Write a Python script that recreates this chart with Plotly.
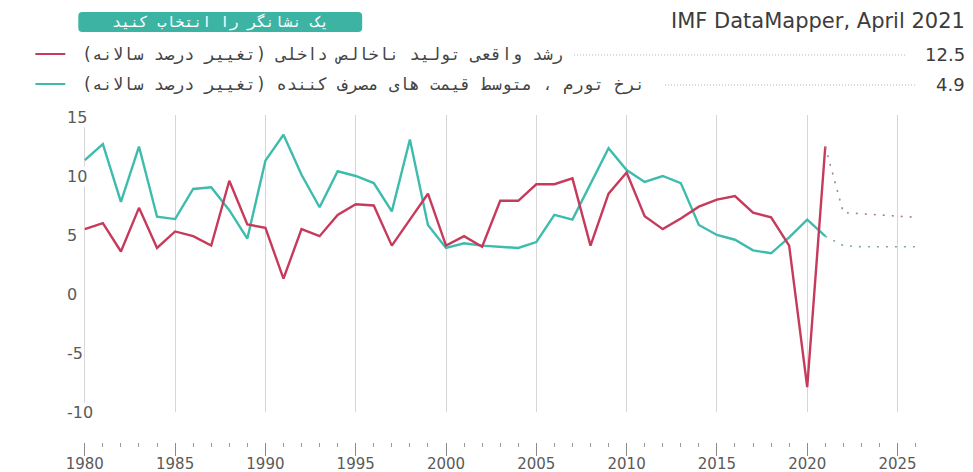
import plotly.graph_objects as go

# ---------------- data ----------------
hist_years = list(range(1980, 2022))
gdp_hist = [5.5, 6.0, 3.6, 7.3, 3.9, 5.3, 4.9, 4.1, 9.6, 5.9,
            5.6, 1.3, 5.5, 4.9, 6.7, 7.6, 7.5, 4.1, 6.3, 8.5,
            4.1, 4.9, 4.0, 7.9, 7.9, 9.3, 9.3, 9.8, 4.1, 8.5,
            10.3, 6.6, 5.5, 6.4, 7.4, 8.0, 8.3, 6.9, 6.5, 4.1,
            -7.9, 12.5]
infl_hist = [11.35, 12.7, 7.8, 12.5, 6.55, 6.35, 8.9, 9.05, 7.1, 4.7,
             11.3, 13.5, 10.1, 7.35, 10.4, 10.0, 9.4, 7.0, 13.1, 5.85,
             3.9, 4.3, 4.1, 4.0, 3.9, 4.4, 6.7, 6.3, 9.3, 12.35,
             10.5, 9.5, 10.0, 9.4, 5.85, 5.0, 4.6, 3.7, 3.45, 4.8,
             6.3, 4.9]
proj_years = [2021, 2022, 2023, 2024, 2025, 2026]
gdp_proj = [12.5, 6.9, 6.8, 6.7, 6.6, 6.5]
infl_proj = [4.9, 4.1, 4.0, 4.0, 4.0, 4.0]

y_ticks = [15, 10, 5, 0, -5, -10]
x_ticks = [1980, 1985, 1990, 1995, 2000, 2005, 2010, 2015, 2020, 2025]

title_text = "IMF DataMapper, April 2021"
button_text = "یک نشانگر را انتخاب کنید"
gdp_label = "رشد واقعی تولید ناخالص داخلی (تغییر درصد سالانه)"
infl_label = "نرخ تورم ، متوسط قیمت های مصرف کننده (تغییر درصد سالانه)"
gdp_latest = "12.5"
infl_latest = "4.9"

RED = "#c63a5b"
TEAL = "#3dbcae"
RED_DOT = "#a8808a"
TEAL_DOT = "#7fa8a3"
GRID = "#d6d6d6"
TXT = "#5a5a5a"
FONT = "DejaVu Sans"
AFONT = "DejaVu Sans Mono, DejaVu Sans"

# ---------------- layout geometry ----------------
# the page body places the figure 8px from the window corner;
# positions below are given in window pixels
OFF = 8
W, H = 973 - OFF, 472 - OFF
L_PX, R_PX, T_PX, B_PX = 82.7, 921.1, 115.0, 442.0   # window pixels
PW, PH = R_PX - L_PX, B_PX - T_PX
RIGHT_TXT = 967


def px(x):
    return (x - L_PX) / PW


def py(y):
    return (B_PX - y) / PH


fig = go.Figure()

fig.add_trace(go.Scatter(x=hist_years, y=infl_hist, mode="lines",
                         line=dict(color=TEAL, width=2.4), showlegend=False,
                         hoverinfo="skip"))
fig.add_trace(go.Scatter(x=hist_years, y=gdp_hist, mode="lines",
                         line=dict(color=RED, width=2.4), showlegend=False,
                         hoverinfo="skip"))
fig.add_trace(go.Scatter(x=proj_years, y=infl_proj, mode="lines",
                         line=dict(color=TEAL_DOT, width=1.6, dash="2px,7px"),
                         showlegend=False, hoverinfo="skip"))
fig.add_trace(go.Scatter(x=proj_years, y=gdp_proj, mode="lines",
                         line=dict(color=RED_DOT, width=1.6, dash="2px,7px"),
                         showlegend=False, hoverinfo="skip"))

# invisible trace on the tick axis so it renders
fig.add_trace(go.Scatter(x=[1980, 2026], y=[None, None], xaxis="x2",
                         mode="lines", showlegend=False, hoverinfo="skip"))

dom_bottom = py(412)

annotations = []
for v in y_ticks:
    annotations.append(dict(x=px(66), xref="paper", y=v, yref="y",
                            text=str(v), showarrow=False, xanchor="left",
                            yanchor="middle", bgcolor="white", borderpad=0,
                            font=dict(family=FONT, size=16, color=TXT)))

annotations.append(dict(x=px(RIGHT_TXT), y=py(21), xref="paper", yref="paper",
                        text=title_text, showarrow=False, xanchor="right",
                        yanchor="middle",
                        font=dict(family=FONT, size=21, color="#3c3c3c")))
annotations.append(dict(x=px(220), y=py(22), xref="paper", yref="paper",
                        text="\u200f" + button_text + "\u200f", showarrow=False,
                        xanchor="center", yanchor="middle",
                        font=dict(family=AFONT, size=15, color="white")))
annotations.append(dict(x=px(80), y=py(54), xref="paper", yref="paper",
                        text="\u200f" + gdp_label + "\u200f", showarrow=False,
                        xanchor="left", yanchor="middle",
                        font=dict(family=AFONT, size=17, color="#444444")))
annotations.append(dict(x=px(80), y=py(84), xref="paper", yref="paper",
                        text="\u200f" + infl_label + "\u200f", showarrow=False,
                        xanchor="left", yanchor="middle",
                        font=dict(family=AFONT, size=17, color="#444444")))
annotations.append(dict(x=px(RIGHT_TXT), y=py(54), xref="paper", yref="paper",
                        text=gdp_latest, showarrow=False, xanchor="right",
                        yanchor="middle",
                        font=dict(family=FONT, size=18, color="#3c3c3c")))
annotations.append(dict(x=px(RIGHT_TXT), y=py(84), xref="paper", yref="paper",
                        text=infl_latest, showarrow=False, xanchor="right",
                        yanchor="middle",
                        font=dict(family=FONT, size=18, color="#3c3c3c")))

# rounded button path
bx0, bx1, by0, by1, r = 78, 362, 12, 32, 4
rx, ry = r / PW, r / PH
X0, X1, Y0, Y1 = px(bx0), px(bx1), py(by1), py(by0)
path = (f"M {X0+rx},{Y0} L {X1-rx},{Y0} Q {X1},{Y0} {X1},{Y0+ry} "
        f"L {X1},{Y1-ry} Q {X1},{Y1} {X1-rx},{Y1} L {X0+rx},{Y1} "
        f"Q {X0},{Y1} {X0},{Y1-ry} L {X0},{Y0+ry} Q {X0},{Y0} {X0+rx},{Y0} Z")

shapes = [
    dict(type="path", path=path, xref="paper", yref="paper",
         fillcolor="#3db4a3", line=dict(width=0), layer="above"),
    dict(type="line", xref="paper", yref="paper", x0=px(35), x1=px(65),
         y0=py(54), y1=py(54), line=dict(color=RED, width=2)),
    dict(type="line", xref="paper", yref="paper", x0=px(35), x1=px(65),
         y0=py(84), y1=py(84), line=dict(color=TEAL, width=2)),
    dict(type="line", xref="paper", yref="paper", x0=px(574), x1=px(906),
         y0=py(55), y1=py(55), line=dict(color="#b5b5b5", width=1, dash="1px,2px")),
    dict(type="line", xref="paper", yref="paper", x0=px(665), x1=px(916),
         y0=py(85), y1=py(85), line=dict(color="#b5b5b5", width=1, dash="1px,2px")),
]

fig.update_layout(
    width=W, height=H,
    margin=dict(l=L_PX - OFF, r=W - (R_PX - OFF), t=T_PX - OFF,
                b=H - (B_PX - OFF), pad=0, autoexpand=False),
    paper_bgcolor="white", plot_bgcolor="white",
    showlegend=False,
    xaxis=dict(range=[1979.9, 2026.3], showgrid=True, gridcolor=GRID,
               gridwidth=1.2, tick0=1980, dtick=5, showticklabels=False,
               ticks="", zeroline=False, showline=False, anchor="y",
               fixedrange=True, automargin=False),
    xaxis2=dict(range=[1979.9, 2026.3], overlaying="x", anchor="free",
                position=0, side="bottom", showgrid=False, zeroline=False,
                showline=False, tickmode="array", tickvals=x_ticks,
                ticks="outside", ticklen=13, tickwidth=1, tickcolor="#8a8a8a",
                ticklabelstandoff=-5,
                automargin=False,
                minor=dict(dtick=1, tick0=1980, ticks="outside", ticklen=4,
                           tickwidth=1, tickcolor="#9a9a9a", showgrid=False),
                tickfont=dict(family=FONT, size=15, color=TXT)),
    yaxis=dict(range=[-10, 15.17], domain=[dom_bottom, 1], showgrid=False,
               zeroline=False, showticklabels=False, ticks="",
               showline=False, fixedrange=True, automargin=False),
    annotations=annotations,
    shapes=shapes,
)

fig.write_html("out.html")
